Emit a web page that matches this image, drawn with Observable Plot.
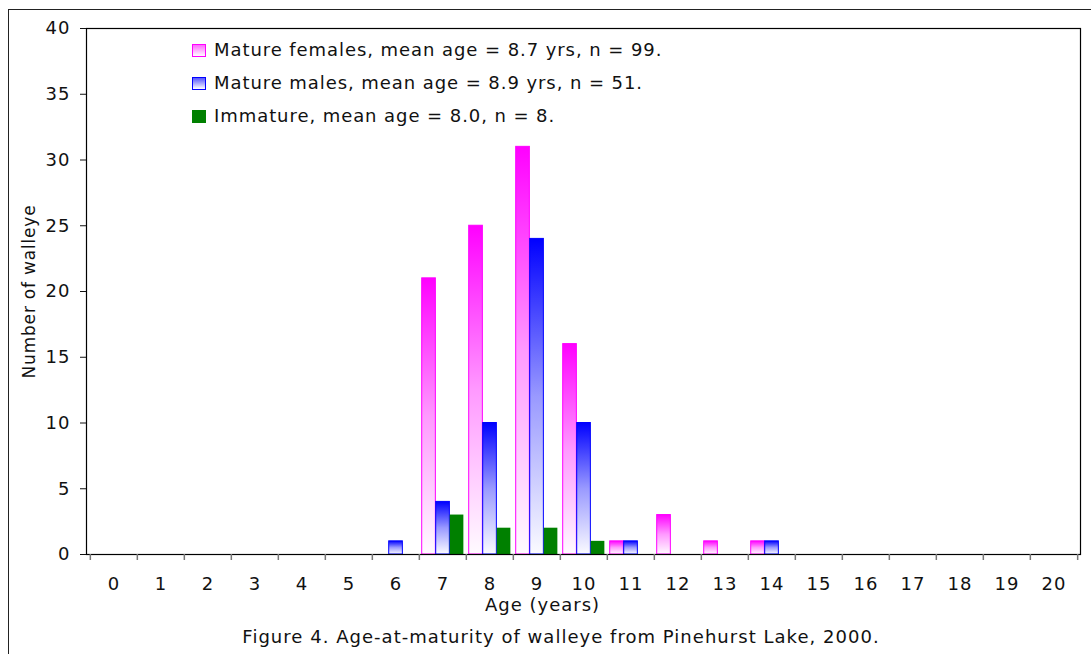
<!DOCTYPE html>
<html><head><meta charset="utf-8">
<script src="https://cdn.jsdelivr.net/npm/d3@7"></script>
<script src="https://cdn.jsdelivr.net/npm/@observablehq/plot@0.6"></script>
<style>
body{margin:0;background:#fff;overflow:hidden;font-family:"DejaVu Sans",sans-serif;color:#111;}
#wrap{position:relative;width:1091px;height:654px;overflow:hidden;}
#border{position:absolute;left:8px;top:9px;width:1200px;height:800px;border:1.5px solid #222;box-sizing:border-box;}
#chart{position:absolute;left:0;top:0;}
#chart svg text{letter-spacing:1px;}
#chart svg g[aria-label="y-axis label"] text{letter-spacing:0.8px;font-size:17px;}
.leg{position:absolute;left:192px;height:20px;font-size:18px;letter-spacing:0.93px;line-height:20px;white-space:nowrap;}
.sw{display:inline-block;width:14px;height:13px;vertical-align:-1px;margin-right:8px;box-sizing:border-box;}
#caption{position:absolute;top:627px;left:561px;transform:translateX(-50%);font-size:18px;letter-spacing:1.03px;line-height:20px;white-space:nowrap;}
</style></head>
<body>
<div id="wrap">
<div id="border"></div>
<div id="chart"></div>
<div class="leg" style="top:40px"><span class="sw" style="border:1px solid #ff00ff;background:linear-gradient(#ff66ff,#ffffff)"></span>Mature females, mean age = 8.7 yrs, n = 99.</div>
<div class="leg" style="top:73px"><span class="sw" style="border:1px solid #0000ff;background:linear-gradient(#5555ff,#ffffff)"></span>Mature males, mean age = 8.9 yrs, n = 51.</div>
<div class="leg" style="top:106px"><span class="sw" style="background:#008000"></span>Immature, mean age = 8.0, n = 8.</div>
<div id="caption">Figure 4. Age-at-maturity of walleye from Pinehurst Lake, 2000.</div>
</div>
<script>
const ages = [0,1,2,3,4,5,6,7,8,9,10,11,12,13,14,15,16,17,18,19,20];
const females = [0,0,0,0,0,0,0,21,25,31,16,1,3,1,1,0,0,0,0,0,0];
const males = [0,0,0,0,0,0,1,4,10,24,10,1,0,0,1,0,0,0,0,0,0];
const immature = [0,0,0,0,0,0,0,3,2,2,1,0,0,0,0,0,0,0,0,0,0];
const yTicks = [0,5,10,15,20,25,30,35,40];

const rows = (vals) => ages.map((a, i) => ({age: a, n: vals[i]})).filter(d => d.n > 0);

const W = 1091, H = 620, ML = 86, MR = 11, MT = 28, MB = 66;
const bw = (W - ML - MR) / ages.length;
const barW = 14, pad = 2.7;

const chart = Plot.plot({
  width: W, height: H,
  marginLeft: ML, marginRight: MR, marginTop: MT, marginBottom: MB,
  style: {fontFamily: "DejaVu Sans, sans-serif", fontSize: "18px", color: "#111", background: "transparent"},
  x: {type: "band", domain: ages, padding: 0},
  y: {domain: [0, 40]},
  marks: [
    Plot.barY(rows(females), {x: "age", y: "n", fill: "url(#gF)", stroke: "#ff00ff", strokeWidth: 1,
      insetLeft: pad, insetRight: bw - pad - barW}),
    Plot.barY(rows(males), {x: "age", y: "n", fill: "url(#gM)", stroke: "#0000ff", strokeWidth: 1,
      insetLeft: pad + barW, insetRight: bw - pad - 2 * barW}),
    Plot.barY(rows(immature), {x: "age", y: "n", fill: "#008000",
      insetLeft: pad + 2 * barW, insetRight: bw - pad - 3 * barW}),
    Plot.frame({stroke: "#000", strokeWidth: 1.2}),
    Plot.axisY({ticks: yTicks, tickSize: 6, tickPadding: 10, fontSize: 18,
      label: "Number of walleye", labelAnchor: "center", labelOffset: 64, labelArrow: "none"}),
    Plot.axisX({tickSize: 0, tickPadding: 23, fontSize: 18, label: null}),
    Plot.axisX({tickSize: 6, tickFormat: () => "", dx: -bw / 2, stroke: "#777", strokeWidth: 1.5, label: null}),
    Plot.axisX({ticks: [20], tickSize: 6, tickFormat: () => "", dx: bw / 2, stroke: "#777", strokeWidth: 1.5, label: null}),
    Plot.text(["Age (years)"], {text: d => d, frameAnchor: "bottom", dy: 56, dx: -41, fontSize: 18, fill: "#111"})
  ]
});

const ns = "http://www.w3.org/2000/svg";
const defs = document.createElementNS(ns, "defs");
defs.innerHTML = `
<linearGradient id="gF" x1="0" y1="0" x2="0" y2="1">
  <stop offset="0" stop-color="#ff00ff"/><stop offset="0.5" stop-color="#ff99ff"/><stop offset="1" stop-color="#fffbff"/>
</linearGradient>
<linearGradient id="gM" x1="0" y1="0" x2="0" y2="1">
  <stop offset="0" stop-color="#0000ff"/><stop offset="0.5" stop-color="#9999ff"/><stop offset="1" stop-color="#fbfbff"/>
</linearGradient>`;
chart.insertBefore(defs, chart.firstChild);
document.getElementById("chart").appendChild(chart);
</script>
</body></html>
